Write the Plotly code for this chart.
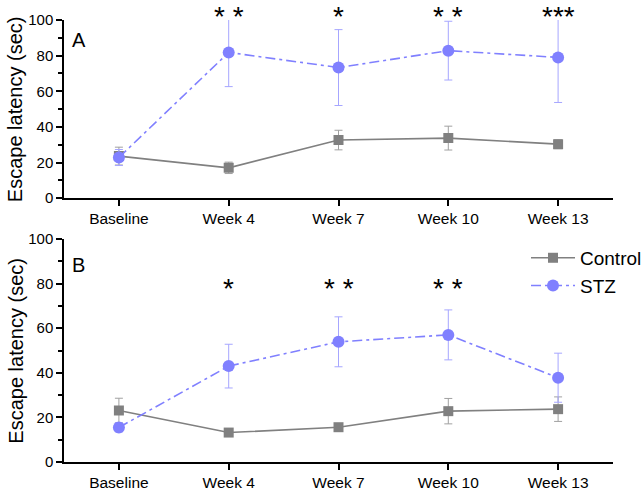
import plotly.graph_objects as go

categories = ["Baseline", "Week 4", "Week 7", "Week 10", "Week 13"]
x_pos = [0, 1, 2, 3, 4]

a_control = [23.6, 17.0, 32.6, 33.7, 30.3]
a_control_err = [5.0, 3.2, 5.5, 6.7, 2.5]
a_stz = [22.8, 81.8, 73.3, 82.8, 79.0]
a_stz_err = [4.5, 19.2, 21.3, 16.5, 25.3]
a_sig = ["", "* *", "*", "* *", "***"]

b_control = [23.1, 13.2, 15.6, 22.8, 23.7]
b_control_err = [5.5, 1.0, 1.5, 5.7, 5.5]
b_stz = [15.5, 43.0, 53.9, 57.0, 37.8]
b_stz_err = [2.0, 9.8, 11.2, 11.2, 11.0]
b_sig = ["", "*", "* *", "* *", ""]

GRAY = "#808080"
BLUE = "#8080ff"
FONT = "Arial, Liberation Sans, sans-serif"

fig = go.Figure()

def add_pair(ctrl, ctrl_err, stz, stz_err, xa, ya, show):
    fig.add_trace(go.Scatter(
        x=x_pos, y=ctrl, name="Control", xaxis=xa, yaxis=ya, showlegend=show,
        mode="lines+markers",
        line=dict(color=GRAY, width=1.6),
        marker=dict(symbol="square", size=10, color=GRAY),
        error_y=dict(type="data", array=ctrl_err, color="#a0a0a0", thickness=1, width=4),
    ))
    fig.add_trace(go.Scatter(
        x=x_pos, y=stz, name="STZ", xaxis=xa, yaxis=ya, showlegend=show,
        mode="lines+markers",
        line=dict(color=BLUE, width=1.6, dash="10px,4px,3px,4px"),
        marker=dict(symbol="circle", size=12, color=BLUE),
        error_y=dict(type="data", array=stz_err, color="#a6a6ff", thickness=1, width=4),
    ))

add_pair(a_control, a_control_err, a_stz, a_stz_err, "x", "y", False)
add_pair(b_control, b_control_err, b_stz, b_stz_err, "x2", "y2", True)

xcommon = dict(
    range=[-0.5, 4.5], tickmode="array", tickvals=x_pos, ticktext=categories,
    showline=True, linecolor="black", linewidth=1.5, ticks="outside", ticklen=6,
    tickcolor="black", tickwidth=1.5, showgrid=False, zeroline=False, automargin=False,
    tickfont=dict(size=15.5, color="black", family=FONT),
)
ycommon = dict(
    range=[0, 100], tickmode="array", tickvals=[0, 20, 40, 60, 80, 100],
    showline=True, linecolor="black", linewidth=1.5, ticks="outside", ticklen=6,
    tickcolor="black", tickwidth=1.5, showgrid=False, zeroline=False, automargin=False,
    tickfont=dict(size=15, color="black", family=FONT),
    minor=dict(tickvals=[10, 30, 50, 70, 90], ticks="outside", ticklen=4,
               tickcolor="black", tickwidth=1.5),
)

fig.update_layout(
    width=644, height=491,
    margin=dict(l=64, r=31, t=20, b=29, autoexpand=False),
    paper_bgcolor="white", plot_bgcolor="white",
    font=dict(family=FONT, color="black"),
    xaxis=dict(domain=[0, 1], anchor="y", **xcommon),
    yaxis=dict(domain=[0.597, 1.0], anchor="x", **ycommon),
    xaxis2=dict(domain=[0, 1], anchor="y2", **xcommon),
    yaxis2=dict(domain=[0, 0.5045], anchor="x2", **ycommon),
    legend=dict(x=526 / 644, y=0.5134, xref="container", yref="container",
                xanchor="left", yanchor="top",
                font=dict(size=19, family=FONT), bgcolor="rgba(0,0,0,0)",
                itemwidth=44, tracegroupgap=0),
    showlegend=True,
)

anns = []
for i, s in enumerate(a_sig):
    if s:
        anns.append(dict(x=x_pos[i], y=1.0068, xref="x", yref="paper", text=s, showarrow=False,
                         font=dict(size=28, family=FONT, color="black"), yanchor="middle"))
for i, s in enumerate(b_sig):
    if s:
        anns.append(dict(x=x_pos[i], y=77.9, xref="x2", yref="y2", text=s, showarrow=False,
                         font=dict(size=28, family=FONT, color="black"), yanchor="middle"))
anns.append(dict(x=0.011, y=0.955, xref="paper", yref="paper", text="A", showarrow=False,
                 xanchor="left", yanchor="middle", font=dict(size=20, family=FONT)))
anns.append(dict(x=0.011, y=0.446, xref="paper", yref="paper", text="B", showarrow=False,
                 xanchor="left", yanchor="middle", font=dict(size=20, family=FONT)))
anns.append(dict(x=-0.089, y=(0.597 + 1.0) / 2, xref="paper", yref="paper",
                 text="Escape latency (sec)", showarrow=False, textangle=-90,
                 xanchor="center", yanchor="middle", font=dict(size=20, family=FONT)))
anns.append(dict(x=-0.089, y=0.5045 / 2, xref="paper", yref="paper",
                 text="Escape latency (sec)", showarrow=False, textangle=-90,
                 xanchor="center", yanchor="middle", font=dict(size=20, family=FONT)))
fig.update_layout(annotations=anns)

fig.write_html("out.html", config={"displayModeBar": False},
               post_script="document.body.style.margin='0';")
